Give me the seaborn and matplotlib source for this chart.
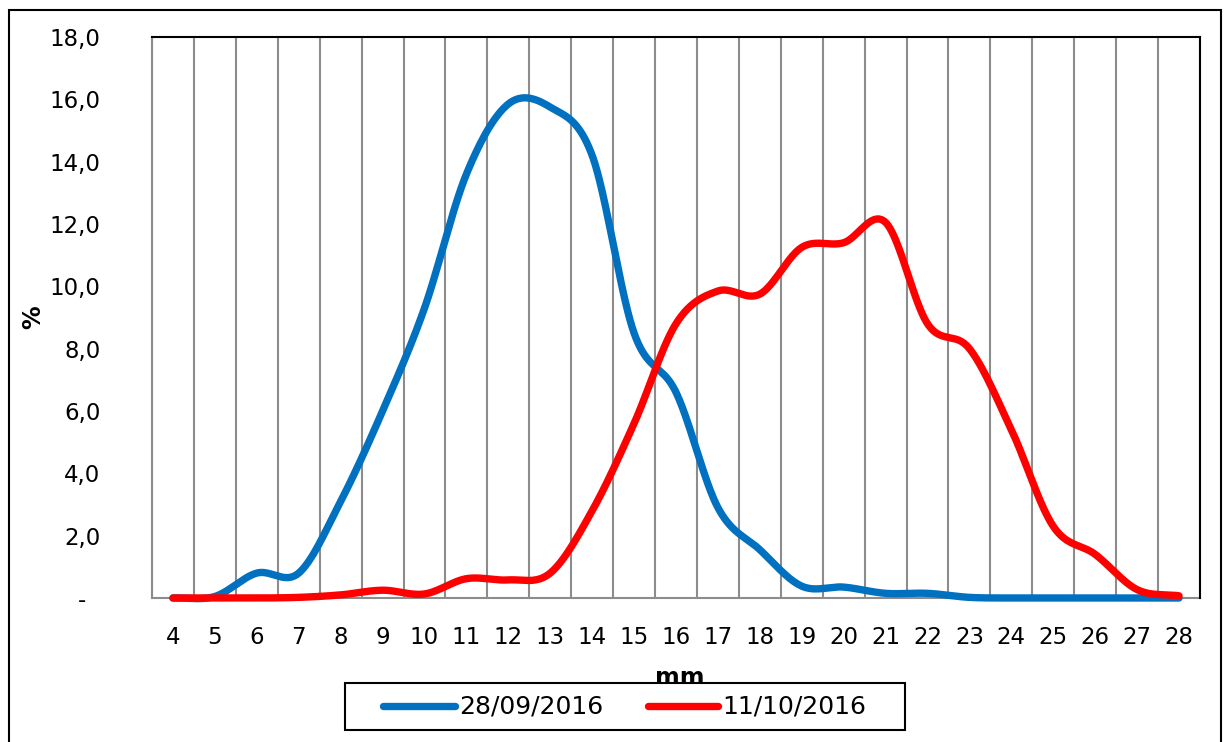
import numpy as np
import pandas as pd
import seaborn as sns
import matplotlib.pyplot as plt
from matplotlib.lines import Line2D
from matplotlib.patches import Rectangle

# values (%, per mm class)
sizes = [str(v) for v in range(4, 29)]
s_2809 = [0.0, 0.05, 0.8, 0.8, 3.1, 6.0, 9.3, 13.6, 15.85, 15.75, 14.2, 8.5, 6.6,
          2.9, 1.55, 0.38, 0.35, 0.15, 0.15, 0.02, 0.0, 0.0, 0.0, 0.0, 0.0]
s_1110 = [0.0, 0.0, 0.0, 0.02, 0.1, 0.25, 0.13, 0.62, 0.58, 0.8, 2.8, 5.6, 8.8,
          9.85, 9.75, 11.25, 11.4, 12.05, 8.8, 8.0, 5.4, 2.3, 1.4, 0.27, 0.07]
series_names = ["28/09/2016", "11/10/2016"]
colors = ["#0070C0", "#FF0000"]


def smooth(y, n=40):
    # Excel-like smoothed line (Catmull-Rom through the points)
    y = np.asarray(y, float)
    m = np.gradient(y)
    t = np.linspace(0, 1, n, endpoint=False)
    h00 = 2 * t**3 - 3 * t**2 + 1
    h10 = t**3 - 2 * t**2 + t
    h01 = -2 * t**3 + 3 * t**2
    h11 = t**3 - t**2
    xs, ys = [], []
    for i in range(len(y) - 1):
        xs.append(i + t)
        ys.append(h00 * y[i] + h10 * m[i] + h01 * y[i + 1] + h11 * m[i + 1])
    xs.append([len(y) - 1])
    ys.append([y[-1]])
    return np.concatenate(xs), np.concatenate(ys)


frames = []
for name, vals in zip(series_names, [s_2809, s_1110]):
    xs, ys = smooth(vals)
    frames.append(pd.DataFrame({"x": xs, "y": ys, "serie": name}))
df = pd.concat(frames, ignore_index=True)

sns.set_style("white")
plt.rcParams["font.family"] = ["DejaVu Sans"]
plt.rcParams["text.color"] = "black"
plt.rcParams["axes.labelcolor"] = "black"
plt.rcParams["xtick.labelcolor"] = "black"
plt.rcParams["ytick.labelcolor"] = "black"

W, H = 1228, 742
fig = plt.figure(figsize=(W / 100, H / 100), dpi=100)
ax = fig.add_axes([152 / W, 1 - 598 / H, 1048 / W, 561 / H])

sns.lineplot(data=df, x="x", y="y", hue="serie", palette=colors, linewidth=5.3,
             sort=False, estimator=None, legend=False, ax=ax)
for ln in ax.lines:
    ln.set_clip_on(False)
    ln.set_solid_capstyle("round")
    ln.set_zorder(5)

grid_c = "#8C8C8C"
ax.set_xlim(-0.5, len(sizes) - 0.5)
ax.set_ylim(0, 18)
ax.set_xticks(range(len(sizes)))
ax.set_xticklabels(sizes)
ax.set_xticks(np.arange(-0.5, len(sizes), 1), minor=True)
ax.tick_params(axis="x", which="major", length=0, pad=20, labelsize=16.5)
ax.tick_params(axis="x", which="minor", length=6, width=1.5, color=grid_c,
               direction="out")
ax.grid(True, axis="x", which="minor", color=grid_c, linewidth=1.5)
ax.grid(False, axis="y")

yt = np.arange(0, 19, 2)
ax.set_yticks(yt)
ax.set_yticklabels(["-  "] + [f"{v:.1f}".replace(".", ",") for v in yt[1:]])
ax.tick_params(axis="y", length=7, width=1.5, color=grid_c, pad=30,
               labelsize=16.5, direction="out")

for side in ["left", "bottom"]:
    ax.spines[side].set_color(grid_c)
    ax.spines[side].set_linewidth(1.5)
for side in ["top", "right"]:
    ax.spines[side].set_color("black")
    ax.spines[side].set_linewidth(1.5)
    ax.spines[side].set_zorder(6)

ax.set_xlabel("mm", fontsize=17, fontweight="bold")
ax.xaxis.set_label_coords(0.504, -0.122)
ax.set_ylabel("%", fontsize=17, fontweight="bold")
ax.yaxis.set_label_coords(-0.102, 0.5)

# legend box drawn like the Excel one, on top of the "mm" label
fig.add_artist(Rectangle((345 / W, 1 - 730 / H), 560 / W, 47 / H,
                         transform=fig.transFigure, facecolor="white",
                         edgecolor="black", linewidth=1.5, zorder=5))
ly = 1 - 706 / H
for (x0, x1, xt), name, c in zip([(383, 455, 459), (648, 718, 722)],
                                 series_names, colors):
    fig.add_artist(Line2D([x0 / W, x1 / W], [ly, ly], transform=fig.transFigure,
                          color=c, linewidth=5.3, solid_capstyle="round", zorder=6))
    fig.text(xt / W, ly, name, fontsize=18, ha="left", va="center", zorder=6)

fig.add_artist(Rectangle((9 / W, -0.02), 1212 / W, 1.02 - 10 / H,
                         transform=fig.transFigure, fill=False,
                         edgecolor="black", linewidth=1.5))

fig.savefig("out.png", dpi=100)
